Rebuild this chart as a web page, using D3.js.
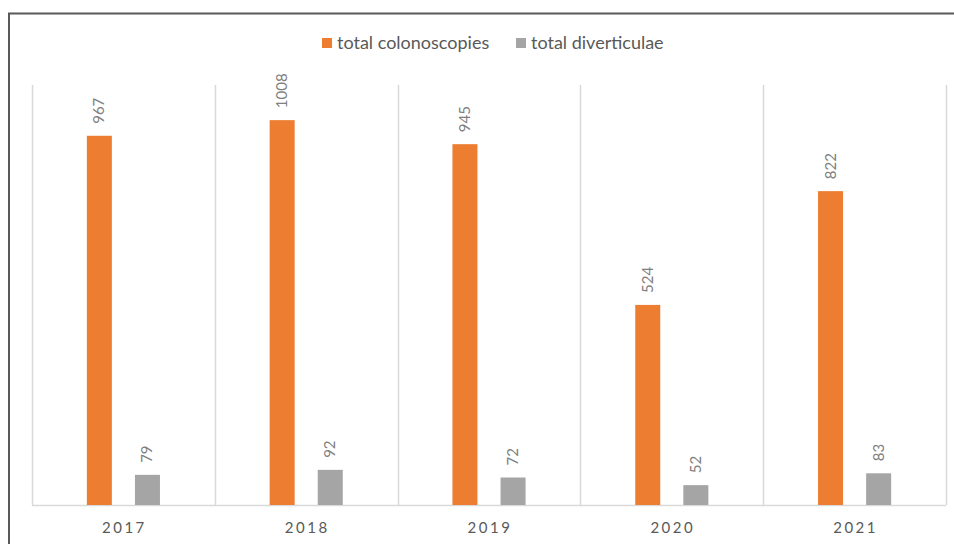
<!DOCTYPE html>
<html>
<head>
<meta charset="utf-8">
<script src="https://cdn.jsdelivr.net/npm/d3@7"></script>
<style>
  body { margin: 0; background: #fff; }
  svg { display: block; }
</style>
</head>
<body>
<div id="chart"></div>
<script>
// Chart data
const years = ['2017', '2018', '2019', '2020', '2021'];
const colonoscopies = [967, 1008, 945, 524, 822];
const diverticulae = [79, 92, 72, 52, 83];
const seriesNames = ['total colonoscopies', 'total diverticulae'];
const seriesColors = ['#ed7d31', '#a5a5a5'];

const width = 954, height = 544;
const margin = { top: 85, right: 8, bottom: 39, left: 32 };

const svg = d3.select('#chart').append('svg')
    .attr('width', width)
    .attr('height', height);

// Outer frame (runs off right and bottom edges)
svg.append('rect')
    .attr('x', 9).attr('y', 13.5)
    .attr('width', 960).attr('height', 560)
    .attr('fill', 'none')
    .attr('stroke', '#595959')
    .attr('stroke-width', 2);

const x = d3.scaleBand()
    .domain(years)
    .range([margin.left, width - margin.right]);

const y = d3.scaleLinear()
    .domain([0, 1100])
    .range([height - margin.bottom, margin.top]);

const inner = d3.scaleBand()
    .domain(seriesNames)
    .range([0, x.bandwidth()])
    .paddingInner(0.48)
    .paddingOuter(1.14);

// Category separators
const bounds = years.map(d => x(d)).concat([x(years[years.length - 1]) + x.bandwidth()]);
svg.append('g')
    .selectAll('line')
    .data(bounds)
    .join('line')
    .attr('x1', d => Math.round(d) + 0.5)
    .attr('x2', d => Math.round(d) + 0.5)
    .attr('y1', y(1100))
    .attr('y2', y(0))
    .attr('stroke', '#d9d9d9')
    .attr('stroke-width', 1.5);

// Baseline
svg.append('line')
    .attr('x1', margin.left).attr('x2', width - margin.right)
    .attr('y1', y(0) + 0.5).attr('y2', y(0) + 0.5)
    .attr('stroke', '#d9d9d9')
    .attr('stroke-width', 1.5);

const rows = years.map((yr, i) => ({
    year: yr,
    values: [
        { key: seriesNames[0], value: colonoscopies[i], color: seriesColors[0] },
        { key: seriesNames[1], value: diverticulae[i], color: seriesColors[1] }
    ]
}));

const groups = svg.append('g')
    .selectAll('g')
    .data(rows)
    .join('g')
    .attr('transform', d => `translate(${x(d.year)},0)`);

groups.selectAll('rect')
    .data(d => d.values)
    .join('rect')
    .attr('x', d => inner(d.key))
    .attr('width', inner.bandwidth())
    .attr('y', d => y(d.value))
    .attr('height', d => y(0) - y(d.value))
    .attr('fill', d => d.color);

// Value labels, rotated
groups.selectAll('text')
    .data(d => d.values)
    .join('text')
    .attr('transform', d => `translate(${inner(d.key) + inner.bandwidth() / 2 + 5},${y(d.value) - 12}) rotate(-90)`)
    .attr('text-anchor', 'start')
    .attr('font-family', 'Lato, "Open Sans", sans-serif')
    .attr('font-size', '15px')
    .attr('fill', '#7f7f7f')
    .text(d => d.value);

// X axis labels
svg.append('g')
    .selectAll('text')
    .data(years)
    .join('text')
    .attr('x', d => x(d) + x.bandwidth() / 2 + 1)
    .attr('y', 533)
    .attr('text-anchor', 'middle')
    .attr('font-family', 'Lato, "Open Sans", sans-serif')
    .attr('font-size', '15px')
    .attr('letter-spacing', '2.5px')
    .attr('fill', '#595959')
    .text(d => d);

// Legend
const legendItems = [
    { name: seriesNames[0], color: seriesColors[0], x: 322 },
    { name: seriesNames[1], color: seriesColors[1], x: 516 }
];
const legend = svg.append('g')
    .selectAll('g')
    .data(legendItems)
    .join('g')
    .attr('transform', d => `translate(${d.x},38)`);

legend.append('rect')
    .attr('width', 10).attr('height', 10)
    .attr('fill', d => d.color);

legend.append('text')
    .attr('x', 15)
    .attr('y', 11)
    .attr('font-family', 'Lato, "Open Sans", sans-serif')
    .attr('font-size', '18px')
    .attr('fill', '#595959')
    .text(d => d.name);
</script>
</body>
</html>
